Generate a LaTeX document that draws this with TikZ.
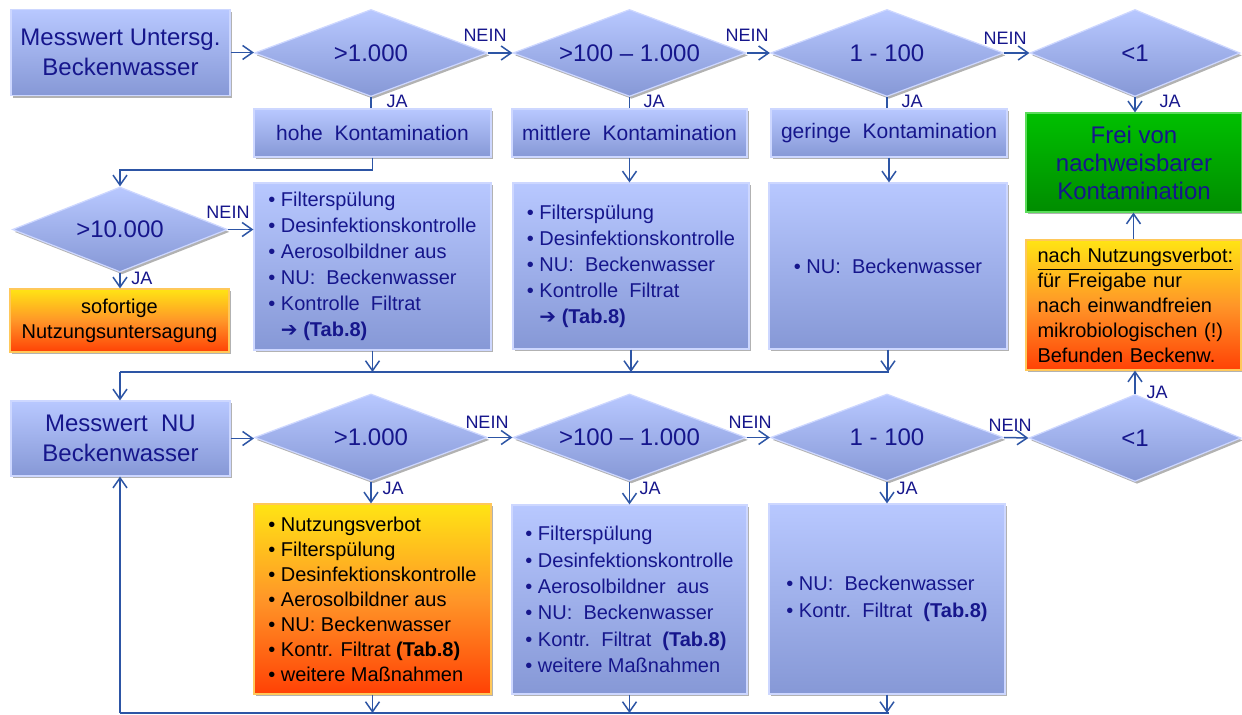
\documentclass[tikz,border=0pt]{standalone}
\usepackage{fontspec}
\setmainfont{Liberation Sans}
\newfontfamily\dejavu{DejaVu Sans}
\usetikzlibrary{shapes.geometric,arrows.meta,shadows}
\definecolor{navy}{RGB}{22,22,140}
\definecolor{lnc}{RGB}{45,85,165}
\definecolor{bluetop}{RGB}{184,200,255}
\definecolor{bluebot}{RGB}{134,152,214}
\definecolor{blueedge}{RGB}{205,215,255}
\definecolor{ortop}{RGB}{255,228,20}
\definecolor{ormid}{RGB}{255,150,40}
\definecolor{orbot}{RGB}{255,65,5}
\definecolor{oredge}{RGB}{255,200,90}
\definecolor{grtop}{RGB}{0,192,0}
\definecolor{grbot}{RGB}{0,140,0}
\definecolor{gredge}{RGB}{90,220,90}
\begin{document}
\begin{tikzpicture}[x=0.5pt,y=-0.5pt,
  shd/.style={drop shadow={shadow xshift=1pt,shadow yshift=-1.2pt,opacity=0.3,fill=black}},
  bbox/.style={shd,rectangle,top color=bluetop,bottom color=bluebot,draw=blueedge,line width=0.6pt,text=navy,inner sep=0pt,align=center},
  obox/.style={shd,rectangle,top color=ortop,bottom color=orbot,middle color=ormid,draw=oredge,line width=0.6pt,text=black,inner sep=0pt,align=center},
  gbox/.style={shd,rectangle,top color=grtop,bottom color=grbot,draw=gredge,line width=0.6pt,text=navy,inner sep=0pt,align=center},
  dia/.style={shd,diamond,shape aspect=2.7,top color=bluetop,bottom color=bluebot,draw=blueedge,line width=0.6pt,text=navy,inner sep=0pt,font=\fontsize{12}{14}\selectfont},
  lbl/.style={text=navy,font=\fontsize{9}{10}\selectfont,inner sep=0pt},
  arr/.style={draw=lnc,line width=0.75pt,-{Straight Barb[length=5pt,width=7pt]}},
  ln/.style={draw=lnc,line width=0.75pt},
  list/.style={align=left,font=\fontsize{10}{13}\selectfont}
]
\useasboundingbox (0,0) rectangle (1242,715);
\fill[white] (0,0) rectangle (1242,715);

% row 1
\node[bbox,minimum width=109.5pt,minimum height=43pt,font=\fontsize{12}{15}\selectfont] (A) at (120.5,52.5) {Messwert Untersg.\\Beckenwasser};
\node[dia,minimum width=116.5pt,minimum height=43.5pt] (D1) at (371,53) {>1.000};
\node[dia,minimum width=116.5pt,minimum height=43.5pt] (D2) at (629.5,53) {>100 – 1.000};
\node[dia,minimum width=116.5pt,minimum height=43.5pt] (D3) at (887,53) {1 - 100};
\node[dia,minimum width=105pt,minimum height=43.5pt] (D4) at (1135,53) {<1};

\node[bbox,minimum width=118.5pt,minimum height=24pt,font=\fontsize{10.5}{12}\selectfont] (H1) at (372.5,133) {hohe\ \ Kontamination};
\node[bbox,minimum width=117.5pt,minimum height=24pt,font=\fontsize{10.5}{12}\selectfont] (H2) at (629.5,133) {mittlere\ \ Kontamination};
\node[bbox,minimum width=118pt,minimum height=24pt,font=\fontsize{10.5}{12}\selectfont] (H3) at (889,133) {geringe\ \ Kontamination};

\node[gbox,minimum width=108pt,minimum height=49.5pt,font=\fontsize{12}{14}\selectfont] (G) at (1134,162.5) {Frei von\\nachweisbarer\\Kontamination};
\node[obox,minimum width=107.5pt,minimum height=65pt,text width=96pt,align=left,font=\fontsize{10}{12.5}\selectfont] (O) at (1133.5,305) {\underline{nach Nutzungsverbot:}\\für Freigabe nur\\nach einwandfreien\\mikrobiologischen (!)\\Befunden Beckenw.};

\node[dia,minimum width=107.5pt,minimum height=42.5pt] (D5) at (120,229.5) {>10.000};
\node[obox,minimum width=109.5pt,minimum height=31.5pt,font=\fontsize{10}{12.5}\selectfont] (S) at (119.5,320.5) {sofortige\\Nutzungsuntersagung};

\node[bbox,list,minimum width=118.5pt,minimum height=83.5pt] (B1) at (372.5,266.5) {• Filterspülung\\• Desinfektionskontrolle\\• Aerosolbildner aus\\• NU:\ \ Beckenwasser\\• Kontrolle\ \ Filtrat\\\phantom{•\ }{\dejavu\bfseries ➔} \textbf{(Tab.8)}};
\node[bbox,list,minimum width=118pt,minimum height=83pt] (B2) at (631,266) {• Filterspülung\\• Desinfektionskontrolle\\• NU:\ \ Beckenwasser\\• Kontrolle\ \ Filtrat\\\phantom{•\ }{\dejavu\bfseries ➔} \textbf{(Tab.8)}};
\node[bbox,list,minimum width=119pt,minimum height=83pt] (B3) at (888,266) {• NU:\ \ Beckenwasser};

% row 2
\node[bbox,minimum width=109.5pt,minimum height=37.5pt,font=\fontsize{12}{15}\selectfont] (C) at (120.5,438.5) {Messwert\ \ NU\\Beckenwasser};
\node[dia,minimum width=116.5pt,minimum height=43.5pt] (D6) at (371,437.5) {>1.000};
\node[dia,minimum width=116.5pt,minimum height=43.5pt] (D7) at (629.5,437.5) {>100 – 1.000};
\node[dia,minimum width=116.5pt,minimum height=43.5pt] (D8) at (887,437.5) {1 - 100};
\node[dia,minimum width=106pt,minimum height=43.5pt] (D9) at (1135,438) {<1};

\node[obox,list,minimum width=118.5pt,minimum height=95pt,font=\fontsize{10}{12.5}\selectfont] (E1) at (372.5,599) {• Nutzungsverbot\\• Filterspülung\\• Desinfektionskontrolle\\• Aerosolbildner aus\\• NU: Beckenwasser\\• Kontr. Filtrat \textbf{(Tab.8)}\\• weitere Maßnahmen};
\node[bbox,list,minimum width=117.5pt,minimum height=94.5pt,font=\fontsize{10}{13.2}\selectfont] (E2) at (629.5,599.5) {• Filterspülung\\• Desinfektionskontrolle\\• Aerosolbildner\ \ aus\\• NU:\ \ Beckenwasser\\• Kontr.\ \ Filtrat\ \ \textbf{(Tab.8)}\\• weitere Maßnahmen};
\node[bbox,list,minimum width=118pt,minimum height=95pt,font=\fontsize{10}{13.5}\selectfont] (E3) at (887,599) {• NU:\ \ Beckenwasser\\• Kontr.\ \ Filtrat\ \ \textbf{(Tab.8)}};

% labels
\node[lbl] (n1) at (485,35) {NEIN};
\node[lbl] (n2) at (747,35) {NEIN};
\node[lbl] (n3) at (1005,38) {NEIN};
\node[lbl] (n4) at (228,212) {NEIN};
\node[lbl] (n5) at (487,422) {NEIN};
\node[lbl] (n6) at (750,422) {NEIN};
\node[lbl] (n7) at (1010,425) {NEIN};
\node[lbl] (y1) at (397,101) {JA};
\node[lbl] (y2) at (654,101) {JA};
\node[lbl] (y3) at (912,101) {JA};
\node[lbl] (y4) at (1170,101) {JA};
\node[lbl] (y5) at (142,278) {JA};
\node[lbl] (y6) at (393,488) {JA};
\node[lbl] (y7) at (650,488) {JA};
\node[lbl] (y8) at (907,488) {JA};
\node[lbl] (y9) at (1157,392) {JA};

% junction coordinates
\coordinate (t1) at (120,170);
\coordinate (j1) at (120,372);
\coordinate (j2) at (889,372);
\coordinate (k1) at (120,713);
\coordinate (k2) at (889,713);

% connectors row 1
\draw[arr] (A.east) -- (A.east -| D1.west);
\draw[arr] (D1.east) -- (D2.west);
\draw[arr] (D2.east) -- (D3.west);
\draw[arr] (D3.east) -- (D4.west);
\draw[ln] (D1.south) -- (D1.south |- H1.north);
\draw[ln] (D2.south) -- (D2.south |- H2.north);
\draw[ln] (D3.south) -- (D3.south |- H3.north);
\draw[arr] (D4.south) -- (D4.south |- G.north);
\draw[arr] (H1.south) |- (t1) -- (D5.north);
\draw[arr] (D5.east) -- (D5.east -| B1.west);
\draw[arr] (D5.south) -- (D5.south |- S.north);
\draw[arr] (H2.south) -- (H2.south |- B2.north);
\draw[arr] (H3.south) -- (H3.south |- B3.north);
\draw[arr] (B1.south) -- (B1.south |- j1);
\draw[arr] (B2.south) -- (B2.south |- j1);
\draw[arr] (B3.south) -- (B3.south |- j1);
\draw[ln] (j1) -- (j2);
\draw[arr] (j1) -- (j1 |- C.north);
\draw[arr] (O.north) -- (O.north |- G.south);

% connectors row 2
\draw[arr] (C.east) -- (C.east -| D6.west);
\draw[arr] (D6.east) -- (D7.west);
\draw[arr] (D7.east) -- (D8.west);
\draw[arr] (D8.east) -- (D9.west);
\draw[arr] (D6.south) -- (D6.south |- E1.north);
\draw[arr] (D7.south) -- (D7.south |- E2.north);
\draw[arr] (D8.south) -- (D8.south |- E3.north);
\draw[arr] (D9.north) -- (D9.north |- O.south);
\draw[arr] (E1.south) -- (E1.south |- k1);
\draw[arr] (E2.south) -- (E2.south |- k1);
\draw[arr] (E3.south) -- (E3.south |- k1);
\draw[ln] (k1) -- (k2);
\draw[arr] (k1) -- (k1 |- C.south);
\end{tikzpicture}
\end{document}
